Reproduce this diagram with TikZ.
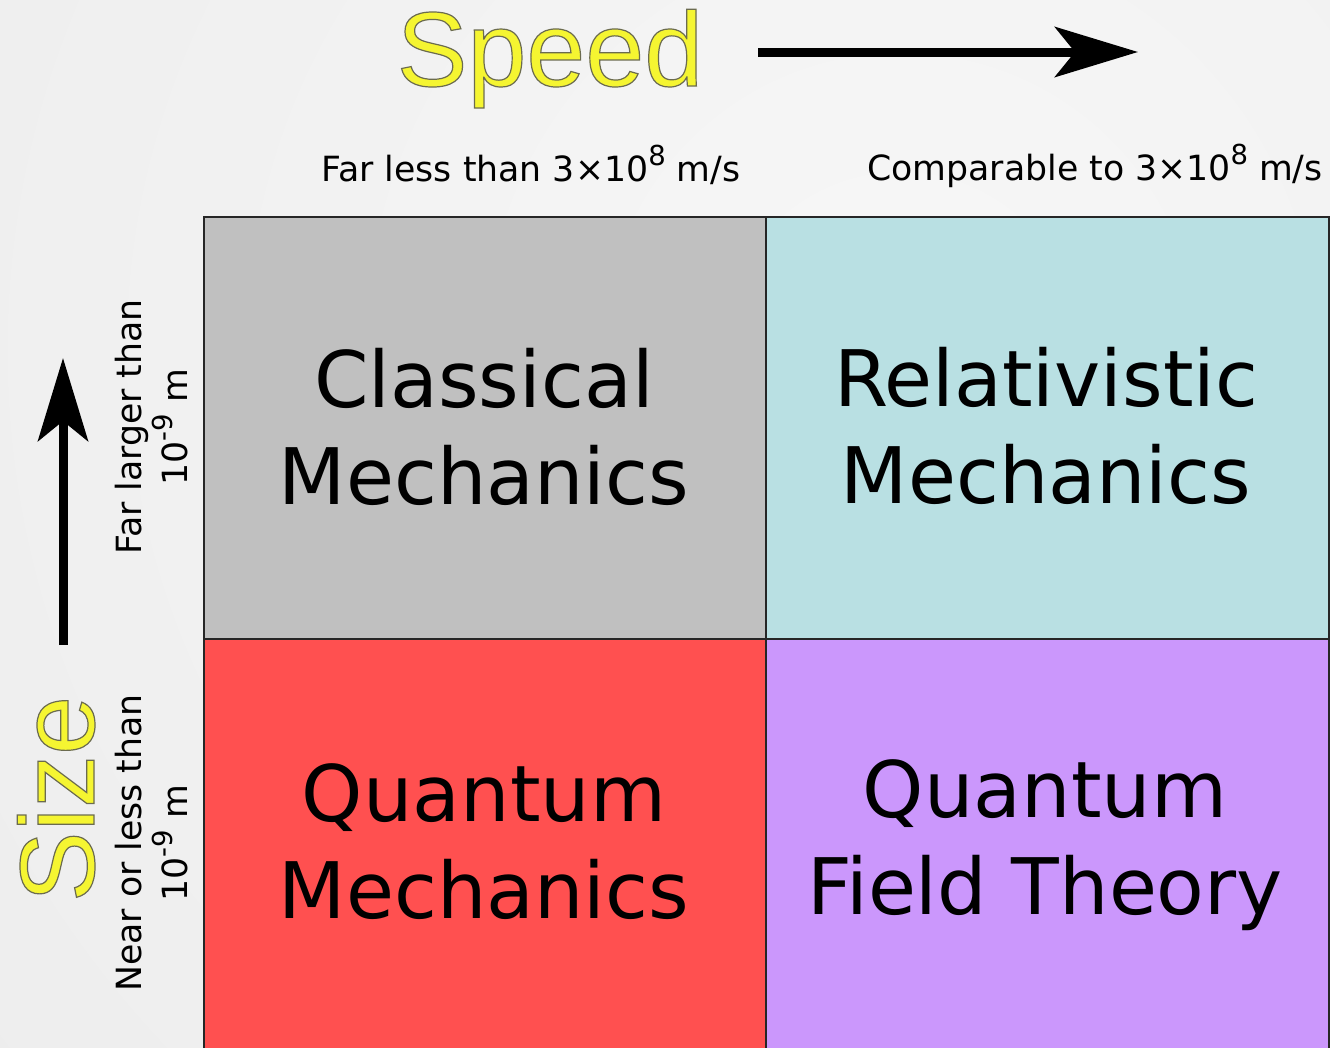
\documentclass[tikz,border=0pt]{standalone}
\usepackage{fontspec}
\setmainfont{DejaVu Sans}
\newfontfamily\arialf{Liberation Sans}
\usetikzlibrary{arrows.meta}
\definecolor{bgin}{HTML}{F7F7F7}
\definecolor{bgout}{HTML}{E2E2E2}
\definecolor{cgray}{HTML}{C0C0C0}
\definecolor{ccyan}{HTML}{B9E0E3}
\definecolor{cred}{HTML}{FF5050}
\definecolor{cpurple}{HTML}{CB97FC}
\definecolor{yel}{HTML}{F5F531}
\definecolor{gridline}{HTML}{262626}
\newcommand{\yellowtext}[1]{{\color{yel}\special{pdf:code 2 Tr 1.2 w 0.42 0.42 0.31 RG}#1\special{pdf:code 0 Tr}}}
\newcommand{\supnum}[1]{\raisebox{0.45em}{\fontsize{27.5}{27.5}\selectfont #1}}
\begin{document}
\begin{tikzpicture}[x=1pt,y=-1pt,
  cell/.style={draw=gridline, line width=2pt, rectangle, inner sep=0pt, anchor=north west},
  bigtext/.style={font=\fontsize{78}{97}\selectfont, align=center, inner sep=0pt},
  axistext/.style={font=\arialf\fontsize{106}{110}\selectfont, inner sep=0pt, anchor=base},
  smalltext/.style={font=\fontsize{34.7}{46}\selectfont, inner sep=0pt},
  bigarrow/.style={line width=9pt, -{Stealth[length=83pt,width=50pt,inset=20pt]}}]
\useasboundingbox (0,0) rectangle (1330,1047);
\begin{scope}
  \clip (0,0) rectangle (1330,1047);
  \shade[inner color=bgin, outer color=bgout] (900,350) circle (2500pt);
\end{scope}
% cells
\node[cell, fill=cgray, minimum width=562pt, minimum height=422pt] (c11) at (203,216) {};
\node[cell, fill=ccyan, minimum width=563pt, minimum height=422pt] (c12) at (765,216) {};
\node[cell, fill=cred, minimum width=562pt, minimum height=440pt] (c21) at (203,638) {};
\node[cell, fill=cpurple, minimum width=563pt, minimum height=440pt] (c22) at (765,638) {};
% cell texts
\node[bigtext] (t11) at (484,427) {Classical\\Mechanics};
\node[bigtext] (t12) at (1046,426) {Relativistic\\Mechanics};
\node[bigtext] (t21) at (484,842) {Quantum\\Mechanics};
\node[bigtext] (t22) at (1045,845) {Quantum\\Field Theory};
% axis titles
\node[axistext] (speed) at (550,86) {\yellowtext{Speed}};
\node[axistext, rotate=90] (size) at (94,799) {\yellowtext{Size}};
% arrows
\coordinate (sa) at (758,52);
\coordinate (sb) at (1138,52);
\draw[bigarrow] (sa) -- (sb);
\coordinate (za) at (63,645);
\coordinate (zb) at (63,358);
\draw[bigarrow] (za) -- (zb);
% speed labels
\node[smalltext, anchor=base] (sl1) at (531,181) {Far less than 3×10\supnum{8} m/s};
\node[smalltext, anchor=base] (sl2) at (1095,180) {Comparable to 3×10\supnum{8} m/s};
% size labels
\node[smalltext, align=center, rotate=90] (zl1) at (152,427) {Far larger than\\10\supnum{-9} m};
\node[smalltext, align=center, rotate=90] (zl2) at (152,843) {Near or less than\\10\supnum{-9} m};
\end{tikzpicture}
\end{document}
